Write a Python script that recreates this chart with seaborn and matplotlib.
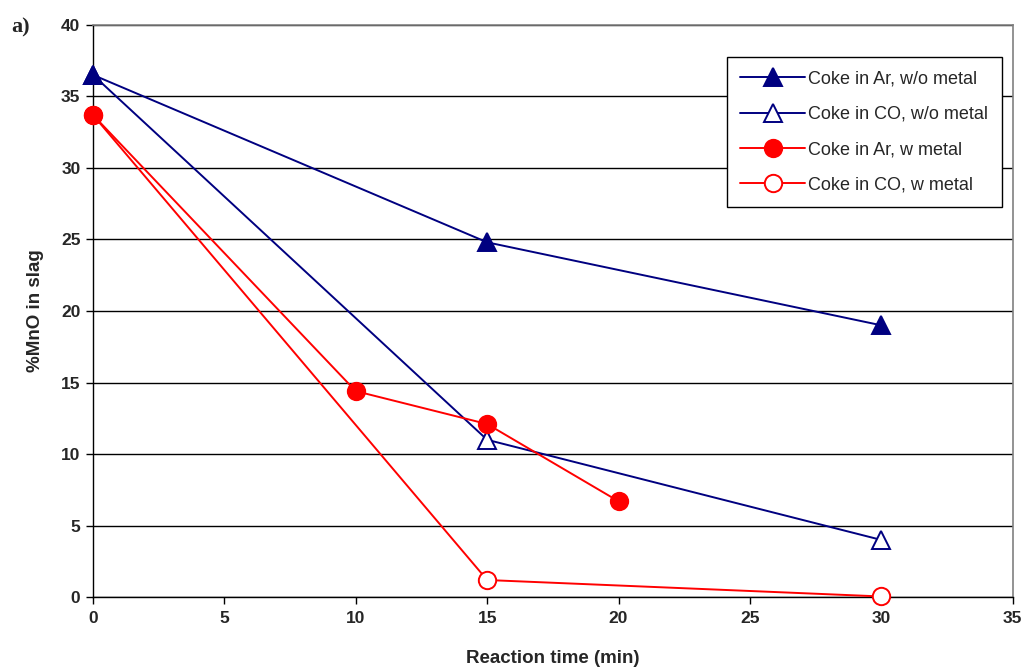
import matplotlib
matplotlib.use("Agg")
import matplotlib.pyplot as plt
import seaborn as sns
import pandas as pd

series_names = ["Coke in Ar, w/o metal", "Coke in CO, w/o metal",
                "Coke in Ar, w metal", "Coke in CO, w metal"]
x_ar_wo = [0, 15, 30]
y_ar_wo = [36.5, 24.8, 19.0]
x_co_wo = [0, 15, 30]
y_co_wo = [36.5, 11.0, 4.0]
x_ar_w = [0, 10, 15, 20]
y_ar_w = [33.7, 14.4, 12.1, 6.7]
x_co_w = [0, 15, 30]
y_co_w = [33.7, 1.2, 0.05]

xs = [x_ar_wo, x_co_wo, x_ar_w, x_co_w]
ys = [y_ar_wo, y_co_wo, y_ar_w, y_co_w]
frames = [pd.DataFrame({"time": x, "mno": y, "series": n}) for x, y, n in zip(xs, ys, series_names)]
df = pd.concat(frames, ignore_index=True)

sns.set_style("white")
plt.rcParams['font.family'] = ['Liberation Sans', 'DejaVu Sans']

fig = plt.figure(figsize=(10.26, 6.71), dpi=100)
ax = fig.add_axes([0.0906, 0.110, 0.8965, 0.853])

styles = [
    dict(color="#000080", marker="^", markersize=12.5, mfc="#000080", mec="#000080", z=5),
    dict(color="#000080", marker="^", markersize=12.5, mfc="white", mec="#000080", z=3),
    dict(color="#ff0000", marker="o", markersize=12.5, mfc="#ff0000", mec="#ff0000", z=6),
    dict(color="#ff0000", marker="o", markersize=12.5, mfc="white", mec="#ff0000", z=4),
]
for name, st in zip(series_names, styles):
    sub = df[df["series"] == name]
    sns.lineplot(data=sub, x="time", y="mno", ax=ax, label=name, color=st["color"],
                 marker=st["marker"], markersize=st["markersize"],
                 markerfacecolor=st["mfc"], markeredgecolor=st["mec"],
                 markeredgewidth=1.4, linewidth=1.4, sort=False, estimator=None,
                 clip_on=False, zorder=st["z"])

ax.set_xlim(0, 35)
ax.set_ylim(0, 40)
ax.set_xticks(range(0, 36, 5))
ax.set_yticks(range(0, 41, 5))
ax.yaxis.grid(True, color="black", linewidth=1.0)
ax.set_axisbelow(True)
for s in ["top", "right"]:
    ax.spines[s].set_color("#808080")
    ax.spines[s].set_linewidth(1.2)
for s in ["left", "bottom"]:
    ax.spines[s].set_color("black")
    ax.spines[s].set_linewidth(1.0)
ax.tick_params(axis="both", direction="out", length=5, width=1, color="black",
               labelsize=12.5, bottom=True, left=True, pad=5)
ax.tick_params(axis="y", pad=4)
for lab in ax.get_xticklabels() + ax.get_yticklabels():
    lab.set_fontweight("bold")
ax.set_xlabel("Reaction time (min)", fontsize=13.5, fontweight="bold", labelpad=17)
ax.set_ylabel("%MnO in slag", fontsize=13.5, fontweight="bold", labelpad=12)

leg = ax.legend(loc="upper right", bbox_to_anchor=(0.988, 0.944), borderaxespad=0,
                fontsize=13, frameon=True, fancybox=False, edgecolor="black", framealpha=1,
                borderpad=0.75, labelspacing=1.02, handlelength=3.6, handletextpad=0.15)
leg.get_frame().set_linewidth(1.0)

fig.text(0.011, 0.952, "a)", fontsize=16, fontweight="bold", family="Liberation Serif")

fig.savefig("out.png", dpi=100, facecolor="white")
